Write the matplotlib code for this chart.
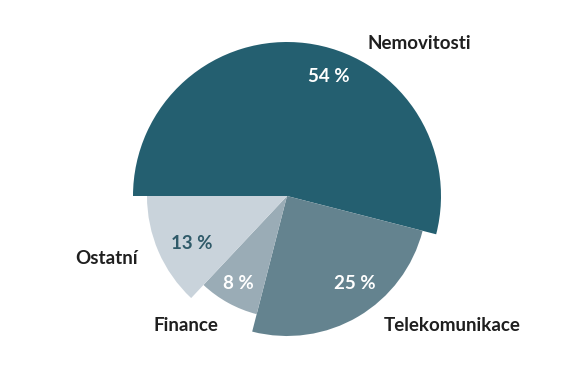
import numpy as np
import matplotlib.pyplot as plt

# ====== data ======
categories = ["Nemovitosti", "Telekomunikace", "Finance", "Ostatní"]
shares = [54, 25, 8, 13]
pct_labels = ["54 %", "25 %", "8 %", "13 %"]

# ====== style ======
colors = ["#245f70", "#64838f", "#9aacb6", "#c9d3db"]
pct_colors = ["white", "white", "white", "#2f5a69"]
radii = [154, 140, 122, 140]          # variable radius per slice (px)
# label placement: (angle shift from slice middle, distance from centre) in px
pct_pos = [(-12, 127), (7, 111), (0, 100), (3, 106)]
name_pos = [(49, 202), (-38, 210), (-128, 164), (-161, 191)]
center = (287, 381 - 196)

plt.rcParams["font.family"] = ["Lato", "DejaVu Sans"]

fig = plt.figure(figsize=(5.83, 3.81), dpi=100)
ax = fig.add_axes([0, 0, 1, 1])

wedges, _ = ax.pie(shares, colors=colors, startangle=180, counterclock=False,
                   center=center, radius=1, wedgeprops=dict(linewidth=0))

for i, w in enumerate(wedges):
    w.set_radius(radii[i])
    mid = (w.theta1 + w.theta2) / 2
    a = np.deg2rad(mid + pct_pos[i][0])
    ax.text(center[0] + pct_pos[i][1] * np.cos(a), center[1] + pct_pos[i][1] * np.sin(a),
            pct_labels[i], ha="center", va="center", fontsize=13.5,
            fontweight="bold", color=pct_colors[i])
    b = np.deg2rad(name_pos[i][0])
    ax.text(center[0] + name_pos[i][1] * np.cos(b), center[1] + name_pos[i][1] * np.sin(b),
            categories[i], ha="center", va="center", fontsize=13.5,
            fontweight="bold", color="#1f1f1f")

# pie() resets the limits, so set the pixel frame afterwards
ax.set_xlim(0, 583)
ax.set_ylim(0, 381)
ax.set_aspect("equal")
ax.axis("off")

fig.savefig("out.png", dpi=100)
